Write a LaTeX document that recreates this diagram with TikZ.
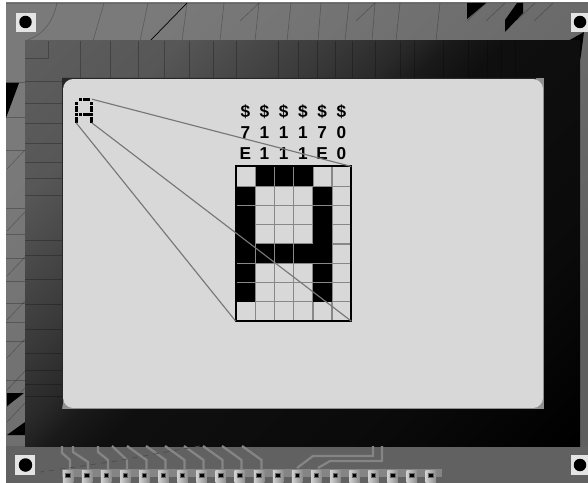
\documentclass[tikz,border=0pt]{standalone}
\usepackage{xcolor}
\usepackage{tikz}
\usepackage{fontspec}
\setmainfont{Liberation Sans}
\definecolor{BoardLight}{HTML}{7A7A7A}
\definecolor{BoardMid}{HTML}{666666}
\definecolor{BoardDark}{HTML}{5E5E5E}
\definecolor{Trace}{HTML}{858585}
\definecolor{ScreenFill}{HTML}{D8D8D8}
\definecolor{ScreenEdge}{HTML}{909090}
\definecolor{GridGray}{HTML}{888888}
\definecolor{WireGray}{HTML}{777777}
\definecolor{PadLight}{HTML}{D0D0D0}
\definecolor{PadDark}{HTML}{8C8C8C}
\definecolor{PinBand}{HTML}{858585}
\definecolor{MountWhite}{HTML}{E4E4E4}
\pgfdeclareverticalshading{framefade}{100bp}{color(0bp)=(black); color(15bp)=(black); color(30bp)=(black!96); color(50bp)=(black!94); color(54bp)=(black!90); color(57bp)=(black!84); color(62bp)=(black!78); color(74bp)=(black!66); color(86bp)=(black!63); color(100bp)=(black!63)}

\begin{document}
\begin{tikzpicture}[
  x=0.02cm, y=-0.02cm,
  seam/.style={black, opacity=0.25, line width=0.5pt},
  scratch/.style={black, opacity=0.25, line width=0.35pt},
  trace/.style={Trace, line width=1.3pt},
  bitlabel/.style={font=\bfseries\fontsize{9.8}{10}\selectfont, inner sep=0pt, text=black},
  wire/.style={WireGray, line width=0.65pt},
  mount/.style={rectangle, fill=MountWhite, minimum width=0.4cm, minimum height=0.39cm, inner sep=0pt},
  hole/.style={circle, fill=black, minimum size=0.25cm, inner sep=0pt},
  pad/.style={rectangle, left color=PadLight, right color=PadDark, minimum width=0.21cm, minimum height=0.28cm, inner sep=0pt},
  padhole/.style={rectangle, fill=black, draw=black!60, line width=0.5pt, minimum size=0.09cm, inner sep=0pt}
]
\useasboundingbox (0,0) rectangle (588,483);
\fill[white] (0,0) rectangle (588,483);

% board
\shade[top color=BoardLight, middle color=BoardMid, bottom color=BoardDark, shading angle=45] (6,3) rectangle (588,483);
\fill[black!62] (6,446) rectangle (588,483);
\draw[black!60, line width=0.5pt] (6,3) -- (588,3);
\foreach \xa/\xb in {104/93,148/140,187/182,224/220,259/255,291/287,321/318,349/345,375/372,400/396,440/436}
  \draw[scratch] (\xa,3) -- (\xb,41);
\draw[scratch] (57,3) .. controls (52,25) and (42,35) .. (25,41);
\draw[black, line width=0.4pt] (187,3) -- (150,41);
\foreach \xa in {259,375,486,505,535,553}
  \draw[scratch] (\xa,3) -- ++(-19,18);
\foreach \ya in {82,117,150,208,234,258,281,303,322,341,380}
  \draw[scratch] (6,\ya) -- (25,\ya);
\foreach \ya in {169,231,276,320,358,390,407,422}
  \draw[scratch] (7,\ya) -- (25,\ya-19);

% black scraps
\fill[black] (6,83) -- (19,83) -- (6,118) -- cycle;
\fill[black] (7,393) -- (24,393) -- (7,406) -- cycle;
\fill[black] (25,422) -- (25,435) -- (7,435) -- cycle;
\fill[black] (467,3) -- (486,3) -- (467,19) -- cycle;
\fill[black] (517,3) -- (523,3) -- (523,13) -- (505,32) -- (505,20) -- cycle;
\fill[black] (568,41) -- (584,32) -- (581,55) -- (580,60) -- cycle;

% frame
\path[shading=framefade, shading angle=45] (25,41) rectangle (580,446);
\foreach \xa in {80,110,138,164,189,213,236,278,298,317,335,352,375,400,414,443,468,487,501,515}
  \draw[seam] (\xa,41) -- (\xa,79);
\foreach \ya in {81,103,123,143,162,178,195,240,255,279,304,329,353,370,384,396}
  \draw[seam] (25,\ya) -- (62,\ya);
\draw[seam] (25,58) -- (48,58) -- (48,41);

% screen
\fill[ScreenEdge] (62,78) rectangle (544,409);
\fill[black!85] (62,409) -- (62,78) -- (536,78) -- (536,79.5) -- (63.5,79.5) -- (63.5,400) -- cycle;
\fill[black!85] (62,78) rectangle (72,88);
\node[rectangle, rounded corners=0.2cm, fill=ScreenFill, minimum width=9.6cm, minimum height=6.58cm, inner sep=0pt] (screen) at (303,243.5) {};

% traces
\draw[trace] (62,446) -- (62,453) -- (70,460) -- (70,470);
\draw[trace] (73,446) -- (73,452) -- (88,462) -- (88,470);
\draw[trace] (98,446) -- (98,452) -- (108,460) -- (108,470);
\draw[trace] (112,446) -- (127,460) -- (127,470);
\foreach \xa in {127,146,165,184,203,222,242}
  \draw[trace] (\xa,446) -- (\xa+19.5,460) -- (\xa+19.5,470);
\draw[trace] (373,446) -- (373,456) -- (313,456) -- (297,468);
\draw[trace] (382,446) -- (382,461) -- (330,461) -- (318,468);
\draw[black!70, dashed, line width=0.4pt] (200,446) -- (110,462) -- (40,472);

% pins
\fill[PinBand] (62,469) rectangle (442,477);
\foreach \i in {0,...,19} {
  \node[pad] (pin\i) at ({68+19.1*\i},477) {};
  \node[padhole] (pinhole\i) at ({68+19.1*\i},475.5) {};
}

% mounting holes
\foreach \name/\xa/\ya/\w in {tl/26/22.5/0.4cm, tr/579.5/22.5/0.34cm, bl/25/465/0.4cm, br/579.5/465/0.34cm} {
  \node[mount, minimum width=\w] (mount\name) at (\xa,\ya) {};
}
\node[hole] (holetl) at (25.5,22) {};
\node[hole] (holetr) at (580,22) {};
\node[hole, minimum size=0.27cm] (holebl) at (25.5,465) {};
\node[hole] (holebr) at (580,465) {};

% enlarged character
\node[rectangle, minimum width=2.3cm, minimum height=3.08cm, inner sep=0pt] (grid) at (293.5,243.8) {};
\foreach \c in {1,...,5}
  \draw[GridGray, line width=0.8pt] ({236+19.2*\c},167) -- ({236+19.2*\c},321);
\foreach \r in {1,...,7}
  \draw[GridGray, line width=0.8pt] (236,{167+19.25*\r}) -- (351,{167+19.25*\r});
\foreach \c/\rows in {0/{1,2,3,4,5,6},1/{0,4},2/{0,4},3/{0,4},4/{1,2,3,4,5,6}} {
  \foreach \r in \rows {
    \fill[black] ({236.3+19.2*\c},{167.3+19.25*\r}) rectangle ({255+19.2*\c},{186+19.25*\r});
  }
}
\draw[black, line width=1.1pt] (grid.south west) rectangle (grid.north east);

% small character
\node[rectangle, minimum width=0.3cm, minimum height=0.46cm, inner sep=0pt] (glyph) at (84,111) {};
\foreach \c/\rows in {0/{1,2,3,4,5,6},1/{0,4},2/{0,4},3/{0,4},4/{1,2,3,4,5,6}} {
  \foreach \r in \rows {
    \fill[black] ({75.2+3.7*\c},{98.4+3.67*\r}) rectangle ({78.4+3.7*\c},{101.4+3.67*\r});
  }
}

% hex labels
\foreach \c/\mid/\low in {0/7/E,1/1/1,2/1/1,3/1/1,4/7/E,5/0/0} {
  \node[bitlabel] (dollar\c) at ({245.3+19.2*\c},111.5) {\$};
  \node[bitlabel] (mid\c) at ({245.3+19.2*\c},132.5) {\mid};
  \node[bitlabel] (low\c) at ({245.3+19.2*\c},153.5) {\low};
}

% zoom lines
\draw[wire] (glyph.north east) -- (grid.north east);
\draw[wire] (glyph.south west) -- (grid.south west);
\draw[wire] (glyph.south east) -- (grid.south east);
\end{tikzpicture}
\end{document}
